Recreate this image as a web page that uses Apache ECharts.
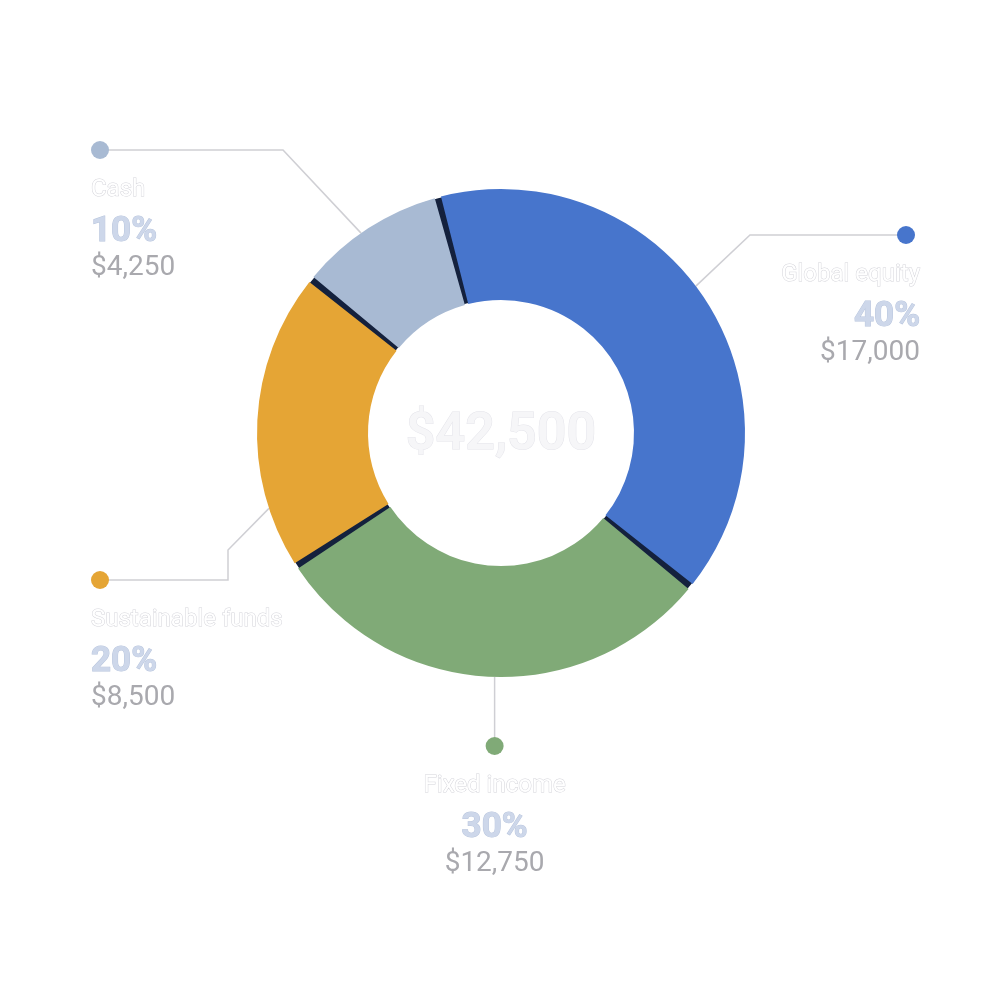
<!DOCTYPE html>
<html><head><meta charset="utf-8">
<script src="https://cdn.jsdelivr.net/npm/echarts@6/dist/echarts.min.js"></script>
<style>html,body{margin:0;padding:0;background:#fff}#c{width:1000px;height:1000px}</style>
</head><body><div id="c"></div>
<script>
// ---- data ----
const categories = ['Global equity', 'Fixed income', 'Sustainable funds', 'Cash'];
const amounts = [17000, 12750, 8500, 4250];

// ---- style / layout ----
const sliceColors = ['#4775CC', '#80AA77', '#E5A535', '#A8BAD3'];
const separatorColor = '#14213D';
const CENTER = [501, 433];
const R_IN = 133, R_OUT = 244;
const START_ANGLE = 105;
const labelLayoutCfg = [
  { align: 'right',  dot: [906, 235],  spacer: 5, startDeg: 53,    bends: [[750, 235]] },
  { align: 'center', dot: [null, 746], spacer: 0, startDeg: 181.5, bends: [] },
  { align: 'left',   dot: [100, 580],  spacer: 0, startDeg: 252,   bends: [[228, 550], [228, 580]] },
  { align: 'left',   dot: [100, 150],  spacer: 0, startDeg: 325,   bends: [[283, 150]] }
];
const FONT = 'Roboto, "Noto Sans", sans-serif';

function fmtMoney(v) { return '$' + v.toLocaleString('en-US'); }

function richFor(align, color, spacer) {
  return {
    dot: { width: 18, height: 18, lineHeight: 34, backgroundColor: color, borderRadius: 9, align: align },
    sp: { width: spacer, height: 18, lineHeight: 34, align: align },
    name: { fontSize: 24, lineHeight: 46, color: '#ffffff', textBorderColor: '#d4d4da', textBorderWidth: 1, align: align, fontFamily: FONT },
    pct: { fontSize: 35, fontWeight: 'bold', lineHeight: 38, color: '#cdd7ea', textBorderColor: '#b8c5dd', textBorderWidth: 1, align: align, fontFamily: FONT },
    val: { fontSize: 28, lineHeight: 34, color: '#a9a9ae', align: align, fontFamily: FONT }
  };
}

const total = amounts.reduce((a, b) => a + b, 0);

const mainData = categories.map((name, i) => ({
  name: name,
  value: amounts[i],
  itemStyle: { color: sliceColors[i] },
  label: { align: labelLayoutCfg[i].align, rich: richFor(labelLayoutCfg[i].align, sliceColors[i], labelLayoutCfg[i].spacer) }
}));

function startPoint(deg) {
  const a = deg * Math.PI / 180;
  return [CENTER[0] + R_OUT * Math.sin(a), CENTER[1] - R_OUT * Math.cos(a)];
}

const chart = echarts.init(document.getElementById('c'));
chart.setOption({
  animation: false,
  backgroundColor: '#ffffff',
  graphic: [{
    type: 'text', x: CENTER[0], y: CENTER[1] + 3, z: 100,
    style: {
      text: fmtMoney(total), align: 'center', verticalAlign: 'middle',
      font: '600 52px ' + FONT, fill: '#f6f6f8', stroke: '#e4e4ea', lineWidth: 1
    }
  }],
  series: [
    {
      // dark ring behind the slices: shows through the gaps as separators
      type: 'pie', silent: true, z: 1,
      center: CENTER, radius: [R_IN + 1, R_OUT - 1], startAngle: START_ANGLE, clockwise: true,
      data: [{ name: 'total', value: total }],
      itemStyle: { color: separatorColor, borderWidth: 0 },
      label: { show: false }, labelLine: { show: false },
      emphasis: { disabled: true }
    },
    {
      type: 'pie', z: 2,
      center: CENTER, radius: [R_IN, R_OUT], startAngle: START_ANGLE, clockwise: true,
      padAngle: 1.5,
      avoidLabelOverlap: false,
      data: mainData,
      itemStyle: { borderWidth: 0 },
      emphasis: { disabled: true },
      label: {
        show: true, position: 'outer', fontFamily: FONT,
        formatter: function (p) {
          const cfg = labelLayoutCfg[p.dataIndex];
          const first = cfg.spacer ? '{dot| }{sp| }' : '{dot| }';
          return first + '\n{name|' + p.name + '}\n{pct|' + Math.round(p.percent) + '%}\n{val|' + fmtMoney(p.value) + '}';
        }
      },
      labelLine: { show: true, smooth: false, length: 20, length2: 20, lineStyle: { color: '#cfcfd4', width: 1.5 } },
      labelLayout: function (p) {
        const cfg = labelLayoutCfg[p.dataIndex];
        const s = startPoint(cfg.startDeg);
        const dot = [cfg.dot[0] == null ? s[0] : cfg.dot[0], cfg.dot[1]];
        const x = cfg.align === 'left' ? dot[0] - 9 : (cfg.align === 'right' ? dot[0] + 9 + cfg.spacer : dot[0]);
        return {
          x: x, y: dot[1] - 17, align: cfg.align, verticalAlign: 'top',
          labelLinePoints: [s].concat(cfg.bends, [dot])
        };
      }
    }
  ]
});
</script>
</body></html>
